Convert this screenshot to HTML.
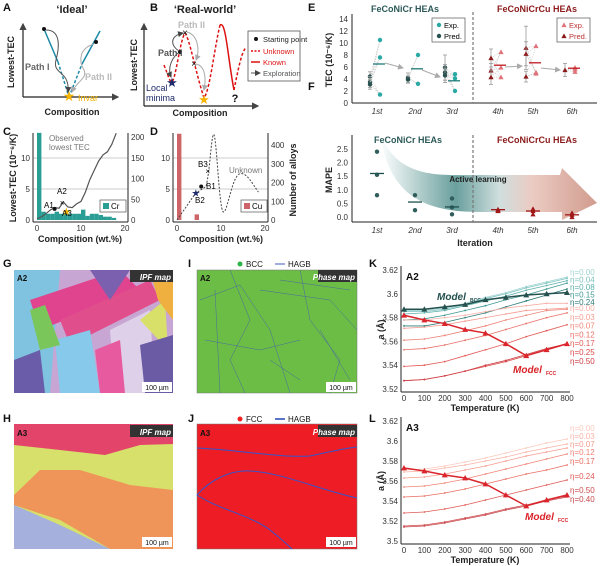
<!DOCTYPE html>
<html><head><meta charset="utf-8">
<style>
html,body{margin:0;padding:0;background:#fff;}
svg{display:block;font-family:"Liberation Sans",Arial,sans-serif;}
.t{font-size:8px;fill:#333}
.lab{font-size:9px;font-weight:bold;fill:#222}
.pl{font-size:11px;font-weight:bold;fill:#111}
</style></head>
<body>
<svg id="fig" width="600" height="566" viewBox="0 0 600 566">
<defs>
<marker id="ar" markerWidth="6" markerHeight="6" refX="5" refY="3" orient="auto"><path d="M0,0L6,3L0,6z" fill="#444"/></marker>
<marker id="arg" markerWidth="6" markerHeight="6" refX="5" refY="3" orient="auto"><path d="M0,0L6,3L0,6z" fill="#aaa"/></marker>
<linearGradient id="alg" x1="0" x2="1"><stop offset="0" stop-color="#ffffff"/><stop offset="0.35" stop-color="#4f8f8c"/><stop offset="0.55" stop-color="#c7d9d8"/><stop offset="0.7" stop-color="#e8c2b8"/><stop offset="1" stop-color="#c98a7a"/></linearGradient>
</defs>

<!-- Panel A -->
<g>
<text class="pl" x="3" y="11">A</text>
<text x="72" y="13" font-size="11" font-weight="bold" fill="#222" text-anchor="middle">‘Ideal’</text>
<line x1="23" y1="97" x2="23" y2="24" stroke="#222" stroke-width="1.2" marker-end="url(#ar)"/>
<line x1="23" y1="97" x2="118" y2="97" stroke="#222" stroke-width="1.2" marker-end="url(#ar)"/>
<text class="lab" x="14" y="62" transform="rotate(-90 14 62)" text-anchor="middle">Lowest-TEC</text>
<text class="lab" x="72" y="115" text-anchor="middle">Composition</text>
<path d="M44,29 L58,62" stroke="#1c8aa6" stroke-width="1.5" fill="none"/>
<path d="M58,62 L69,97" stroke="#1c8aa6" stroke-width="1.5" stroke-dasharray="3,2" fill="none"/>
<path d="M69,97 L82,64" stroke="#1c8aa6" stroke-width="1.5" stroke-dasharray="3,2" fill="none"/>
<path d="M82,64 L100,31" stroke="#1c8aa6" stroke-width="1.5" fill="none"/>
<circle cx="44" cy="29" r="2" fill="#111"/><circle cx="96" cy="42" r="2" fill="#111"/>
<path d="M46,30 C60,30 60,45 56,60 C52,75 70,70 68,92" stroke="#555" fill="none" marker-end="url(#ar)"/>
<path d="M94,44 C80,48 78,60 84,70 C88,78 76,82 72,92" stroke="#aaa" fill="none" marker-end="url(#arg)"/>
<text x="25" y="70" font-size="9" font-weight="bold" fill="#666">Path I</text>
<text x="85" y="80" font-size="9" font-weight="bold" fill="#bbb">Path II</text>
<text x="69" y="101" font-size="14" fill="#f5b400" text-anchor="middle">★</text>
<text x="78" y="101" font-size="9" fill="#f5b400">Invar</text>
</g>

<!-- Panel B -->
<g>
<text class="pl" x="150" y="11">B</text>
<text x="205" y="13" font-size="11" font-weight="bold" fill="#222" text-anchor="middle">‘Real-world’</text>
<line x1="144" y1="106" x2="144" y2="24" stroke="#222" stroke-width="1.2" marker-end="url(#ar)"/>
<line x1="144" y1="106" x2="258" y2="106" stroke="#222" stroke-width="1.2" marker-end="url(#ar)"/>
<text class="lab" x="137" y="65" transform="rotate(-90 137 65)" text-anchor="middle">Lowest-TEC</text>
<text class="lab" x="200" y="116" text-anchor="middle">Composition</text>
<path d="M164,65 C168,75 170,83 172,82 C176,78 180,40 185,33 C190,40 195,70 204,98 C210,90 214,50 220,25" stroke="#d11" stroke-width="1.5" stroke-dasharray="3,2" fill="none"/>
<path d="M220,25 C226,20 228,60 234,90" stroke="#d11" stroke-width="1.5" fill="none"/>
<path d="M234,90 C238,70 242,50 246,48" stroke="#d11" stroke-width="1.5" stroke-dasharray="3,2" fill="none"/>
<circle cx="180" cy="52" r="2" fill="#111"/>
<text x="185" y="36" font-size="10" text-anchor="middle" fill="#111">×</text>
<text x="194" y="67" font-size="10" text-anchor="middle" fill="#111">×</text>
<path d="M179,51 C170,45 170,36 183,33" stroke="#555" fill="none" marker-end="url(#ar)"/>
<path d="M178,53 C170,60 168,70 171,77" stroke="#555" fill="none" marker-end="url(#ar)"/>
<path d="M187,32 C198,35 200,50 196,60" stroke="#aaa" fill="none" marker-end="url(#arg)"/>
<path d="M196,64 C206,66 206,80 204,90" stroke="#aaa" fill="none" marker-end="url(#arg)"/>
<text x="178" y="28" font-size="9" font-weight="bold" fill="#bbb">Path II</text>
<text x="158" y="56" font-size="9" font-weight="bold" fill="#555">Path I</text>
<text x="172" y="87" font-size="13" fill="#1f2a6b" text-anchor="middle">★</text>
<text x="146" y="91" font-size="9" fill="#1f2a6b">Local</text>
<text x="146" y="101" font-size="9" fill="#1f2a6b">minima</text>
<text x="204" y="104" font-size="13" fill="#f5b400" text-anchor="middle">★</text>
<text x="235" y="102" font-size="11" font-weight="bold" fill="#111" text-anchor="middle">?</text>
<g>
<rect x="248" y="31" width="52" height="50" fill="#fff" stroke="#555" stroke-width="0.8"/>
<circle cx="256" cy="39" r="2" fill="#111"/><text x="263" y="42" font-size="7.5" fill="#222">Starting point</text>
<line x1="251" y1="51" x2="260" y2="51" stroke="#d11" stroke-width="1.5" stroke-dasharray="2,1.5"/><text x="263" y="54" font-size="7.5" fill="#d11">Unknown</text>
<line x1="251" y1="62" x2="260" y2="62" stroke="#d11" stroke-width="1.5"/><text x="263" y="65" font-size="7.5" fill="#d11">Known</text>
<line x1="251" y1="73" x2="260" y2="73" stroke="#555" marker-end="url(#ar)"/><text x="263" y="76" font-size="7.5" fill="#555">Exploration</text>
</g>
</g>

<text class="pl" x="3" y="135">C</text>
<text class="pl" x="150" y="135">D</text>
<g id="pc"></g>
<g id="pd"></g>

<text class="pl" x="308" y="11">E</text>
<text class="pl" x="308" y="90">F</text>
<g id="pe"></g>
<g id="pf"></g>

<!-- Maps -->
<text class="pl" x="3" y="267">G</text>
<text class="pl" x="3" y="422">H</text>
<text class="pl" x="188" y="267">I</text>
<text class="pl" x="188" y="422">J</text>
<g>
<rect x="14" y="270" width="159" height="123" fill="#c7a6d4"/>
<polygon points="14,270 60,270 50,393 14,393" fill="#7fc3e0"/>
<polygon points="30,300 120,270 140,290 40,330" fill="#e0448f"/>
<polygon points="60,320 150,280 160,300 70,345" fill="#e04e8c"/>
<polygon points="55,340 90,330 100,393 60,393" fill="#86c9ea"/>
<polygon points="110,330 150,310 155,393 115,393" fill="#ded0e8"/>
<polygon points="140,320 165,300 168,350" fill="#d8e06a"/>
<polygon points="14,360 40,350 45,393 14,393" fill="#6a5ca8"/>
<polygon points="90,270 130,270 110,300" fill="#7b60b0"/>
<polygon points="150,270 173,270 173,320 158,300" fill="#f0b040"/>
<polygon points="95,350 120,340 125,393 100,393" fill="#e85aa0"/>
<polygon points="140,345 173,335 173,393 145,393" fill="#6b5ba5"/>
<polygon points="30,310 45,305 60,345 40,350" fill="#7ac65a"/>
<rect x="130" y="270" width="43" height="12" fill="#333"/><text x="171" y="280" font-size="8" font-style="italic" font-weight="bold" fill="#fff" text-anchor="end">IPF map</text>
<text x="17" y="281" font-size="8" font-weight="bold" fill="#111">A2</text>
<rect x="142" y="382" width="30" height="10" fill="#fff"/><text x="157" y="390" font-size="7" fill="#111" text-anchor="middle">100 µm</text>
</g>
<g>
<rect x="14" y="424" width="159" height="125" fill="#d6e06a"/>
<polygon points="14,424 173,424 173,444 140,445 105,455 60,450 14,445" fill="#e3446a"/>
<polygon points="14,495 40,470 80,470 130,485 173,490 173,549 110,549 60,520 14,505" fill="#f0955a"/>
<polygon points="14,505 60,525 110,549 14,549" fill="#a6b0dc"/>
<rect x="130" y="425" width="43" height="12" fill="#333"/><text x="171" y="435" font-size="8" font-style="italic" font-weight="bold" fill="#fff" text-anchor="end">IPF map</text>
<text x="17" y="436" font-size="8" font-weight="bold" fill="#111">A3</text>
<rect x="142" y="537" width="30" height="10" fill="#fff"/><text x="157" y="545" font-size="7" fill="#111" text-anchor="middle">100 µm</text>
</g>
<g>
<circle cx="240" cy="264" r="2.5" fill="#2db34a"/><text x="246" y="267" font-size="8" fill="#111">BCC</text>
<line x1="275" y1="264" x2="285" y2="264" stroke="#8090d0" stroke-width="1.5"/><text x="288" y="267" font-size="8" fill="#111">HAGB</text>
<rect x="197" y="270" width="160" height="123" fill="#6cbd45" stroke="#777" stroke-width="0.5"/>
<g stroke="#4a6aa0" stroke-width="0.5" fill="none">
<path d="M200,300 L240,285 L270,330 L290,393"/><path d="M230,270 L250,320 L230,360 L245,393"/>
<path d="M260,290 L330,300 L357,330"/><path d="M300,270 L310,320 L340,360 L330,393"/>
<path d="M205,340 L260,350 L300,340"/><path d="M280,280 L350,290"/><path d="M215,290 L220,393"/>
<path d="M320,330 L350,380"/><path d="M270,360 L300,380"/>
</g>
<rect x="318" y="270" width="39" height="12" fill="#333"/><text x="355" y="280" font-size="8" font-style="italic" font-weight="bold" fill="#fff" text-anchor="end">Phase map</text>
<text x="200" y="281" font-size="8" font-weight="bold" fill="#111">A2</text>
<rect x="326" y="382" width="30" height="10" fill="#fff"/><text x="341" y="390" font-size="7" fill="#111" text-anchor="middle">100 µm</text>
</g>
<g>
<circle cx="240" cy="419" r="2.5" fill="#e22"/><text x="246" y="422" font-size="8" fill="#111">FCC</text>
<line x1="275" y1="419" x2="285" y2="419" stroke="#2244bb" stroke-width="1.5"/><text x="288" y="422" font-size="8" fill="#111">HAGB</text>
<rect x="197" y="424" width="160" height="125" fill="#ee1c25" stroke="#777" stroke-width="0.5"/>
<g stroke="#3355cc" stroke-width="1" fill="none">
<path d="M197,448 C240,450 280,458 310,456 C330,452 345,448 357,447"/>
<path d="M197,495 C210,480 230,470 250,471 C280,472 320,490 357,498"/>
<path d="M197,495 C220,510 250,515 270,530 C280,538 288,545 292,549"/>
</g>
<rect x="318" y="425" width="39" height="12" fill="#333"/><text x="355" y="435" font-size="8" font-style="italic" font-weight="bold" fill="#fff" text-anchor="end">Phase map</text>
<text x="200" y="436" font-size="8" font-weight="bold" fill="#111">A3</text>
<rect x="326" y="537" width="30" height="10" fill="#fff"/><text x="341" y="545" font-size="7" fill="#111" text-anchor="middle">100 µm</text>
</g>

<text class="pl" x="369" y="267">K</text>
<text class="pl" x="369" y="422">L</text>
<g id="pk"></g>
<g id="pl"></g>
</svg>

<script>
// ---------- data ----------
const crBinCounts = [210,20,15,15,20,15,15,15,15,15,25,10,15,15,12,8,8,5];
const crTecComp = [0,1,2,3,4,5,6,7,8,9,10,11,12,13,14,15,16,17,18];
const crTecVals = [0.2,0.5,1.0,1.6,2.0,1.9,2.9,2.1,2.0,2.6,3.0,4.5,6.5,8.0,9.5,10.5,11.0,12.2,14.0];
const cuBinStart = [0,4];
const cuBinCounts = [460,30];
const cTicksLeft = [0,5,10];
const cTicksRight = [0,50,100,150,200];
const dTicksRight = [0,100,200,300,400];
const compTicks = [0,10,20];

const iterLabels = ["1st","2nd","3rd","4th","5th","6th"];
const tecExp = [[10.5,7.6,1.4],[8.0,3.2],[4.8,4.1,2.0],[8.5,5.9,4.3],[9.5,5.1,4.9],[5.9,5.6,5.2]];
const tecPred = [[4.4,3.5,3.1],[4.2,3.9],[5.9,5.1,4.6],[7.5,5.4,4.3],[9.2,8.2,4.4],[5.5]];
const tecPredErr = [[0.8,0.9,0.8],[0.8,0.6],[2.1,1.3,1.2],[1.5,1.2,1.2],[3.6,2.0,0.9],[1.1]];
const tecMean = [6.5,5.7,3.7,6.3,6.7,5.8];
const tecTicks = [0,2,4,6,8,10,12,14];
const mapeVals = [[2.4,1.55,0.8],[0.8,0.25],[0.68,0.35,0.1],[0.28,0.25,0.22],[0.3,0.22,0.1],[0.15,0.08,0.0]];
const mapeMean = [1.6,0.55,0.37,0.27,0.22,0.08];
const mapeTicks = [0,0.5,1.0,1.5,2.0,2.5];

const temps = [0,100,200,300,400,500,600,700,800];
const kBccEta = ["0.00","0.04","0.08","0.15","0.24"];
const kBcc = [
 [3.586,3.586,3.588,3.592,3.597,3.601,3.606,3.610,3.614],
 [3.585,3.585,3.587,3.591,3.596,3.600,3.605,3.609,3.613],
 [3.583,3.584,3.586,3.590,3.594,3.598,3.603,3.607,3.611],
 [3.578,3.579,3.582,3.586,3.590,3.595,3.599,3.604,3.609],
 [3.573,3.573,3.576,3.580,3.584,3.589,3.594,3.599,3.604]];
const kModelBcc = [3.587,3.587,3.589,3.591,3.595,3.597,3.599,3.600,3.601];
const kFccEta = ["0.00","0.03","0.07","0.12","0.17","0.25","0.50"];
const kFcc = [
 [3.578,3.578,3.580,3.582,3.585,3.588,3.590,3.592,3.592],
 [3.571,3.572,3.574,3.577,3.580,3.583,3.586,3.587,3.588],
 [3.561,3.562,3.565,3.569,3.573,3.578,3.582,3.586,3.587],
 [3.553,3.554,3.557,3.561,3.565,3.570,3.575,3.580,3.584],
 [3.539,3.540,3.543,3.548,3.553,3.558,3.564,3.569,3.574],
 [3.527,3.528,3.531,3.535,3.539,3.543,3.548,3.553,3.558],
 [3.527,3.528,3.531,3.535,3.540,3.544,3.549,3.554,3.558]];
const kModelFcc = [3.582,3.578,3.575,3.570,3.567,3.558,3.548,3.553,3.558];
const kTicks = [3.52,3.54,3.56,3.58,3.60,3.62];
const lFccEta = ["0.00","0.03","0.07","0.12","0.17","0.24","0.50","0.40"];
const lFcc = [
 [3.571,3.572,3.575,3.579,3.583,3.588,3.593,3.598,3.602],
 [3.569,3.570,3.573,3.576,3.580,3.584,3.589,3.593,3.597],
 [3.563,3.564,3.567,3.571,3.575,3.580,3.585,3.589,3.593],
 [3.554,3.555,3.558,3.562,3.567,3.572,3.577,3.582,3.587],
 [3.544,3.545,3.548,3.552,3.557,3.562,3.567,3.571,3.576],
 [3.528,3.529,3.532,3.536,3.541,3.546,3.551,3.556,3.561],
 [3.515,3.516,3.519,3.523,3.527,3.532,3.536,3.541,3.545],
 [3.514,3.515,3.518,3.522,3.526,3.531,3.535,3.540,3.544]];
const lModelFcc = [3.573,3.570,3.566,3.563,3.557,3.546,3.535,3.541,3.546];
const lTicks = [3.50,3.52,3.54,3.56,3.58,3.60,3.62];
const tempTicks = [0,100,200,300,400,500,600,700,800];

// ---------- helpers ----------
const NS="http://www.w3.org/2000/svg";
function mk(parent,tag,attrs,txt){const e=document.createElementNS(NS,tag);for(const k in attrs)e.setAttribute(k,attrs[k]);if(txt!==undefined)e.textContent=txt;parent.appendChild(e);return e;}
function lin(d0,d1,r0,r1){return v=>r0+(v-d0)/(d1-d0)*(r1-r0);}
function tri(x,y,s){return `${x},${y-s} ${x-s},${y+s*0.8} ${x+s},${y+s*0.8}`;}

// ---------- Panel C ----------
(function(){
 const g=document.getElementById('pc');
 const x=lin(0,20,37,125), yl=lin(0,10,220,158), yr=lin(0,200,220,137);
 [5,10].forEach(v=>mk(g,'line',{x1:33,x2:128,y1:yl(v),y2:yl(v),stroke:'#bbb','stroke-width':0.7}));
 crBinCounts.forEach((c,i)=>{const b=mk(g,'rect',{x:x(i),y:yr(c),width:x(i+1)-x(i),height:220-yr(c),fill:'#2a9d94'});
  
  });
 const p=mk(g,'polyline',{points:crTecComp.map((c,i)=>x(c)+','+yl(crTecVals[i])).join(' '),fill:'none',stroke:'#555','stroke-width':1.2});
 
 
 mk(g,'line',{x1:33,y1:133,x2:33,y2:222,stroke:'#222'});
 mk(g,'line',{x1:128,y1:133,x2:128,y2:222,stroke:'#222'});
 mk(g,'line',{x1:33,y1:222,x2:128,y2:222,stroke:'#222'});
 cTicksLeft.forEach(v=>{mk(g,'text',{x:30,y:yl(v)+3,class:'t','text-anchor':'end'},v);});
 cTicksRight.forEach(v=>{mk(g,'text',{x:131,y:yr(v)+3,class:'t'},v);});
 compTicks.forEach(v=>{mk(g,'text',{x:x(v),y:231,class:'t','text-anchor':'middle'},v);});
 mk(g,'text',{x:80,y:242,class:'lab','text-anchor':'middle'},'Composition (wt.%)');
 mk(g,'text',{x:16,y:178,class:'lab','text-anchor':'middle',transform:'rotate(-90 16 178)'},'Lowest-TEC (10⁻⁶/K)');
 mk(g,'text',{x:49,y:141,'font-size':8,fill:'#777'},'Observed');
 mk(g,'text',{x:49,y:150,'font-size':8,fill:'#777'},'lowest TEC');
 mk(g,'circle',{cx:x(4),cy:yl(1.8),r:2,fill:'#111'});
 mk(g,'text',{x:x(5.7),y:yl(2.8)+3,'font-size':8,'text-anchor':'middle'},'×');
 mk(g,'text',{x:x(6.7),y:yl(1.4)+4,'font-size':11,'text-anchor':'middle',fill:'#f5b400'},'★');
 mk(g,'text',{x:44,y:208,'font-size':8},'A1');mk(g,'text',{x:57,y:194,'font-size':8},'A2');mk(g,'text',{x:62,y:216,'font-size':8},'A3');
 mk(g,'rect',{x:100,y:200,width:26,height:12,fill:'#fff',stroke:'#555','stroke-width':0.7});
 mk(g,'rect',{x:103,y:203,width:6,height:6,fill:'#2a9d94'});mk(g,'text',{x:111,y:209,'font-size':8},'Cr');
})();

// ---------- Panel D ----------
(function(){
 const g=document.getElementById('pd');
 const x=lin(0,20,177,265), yl=lin(0,10,220,158), yr=lin(0,400,220,145);
 [5,10].forEach(v=>mk(g,'line',{x1:173,x2:268,y1:yl(v),y2:yl(v),stroke:'#bbb','stroke-width':0.7}));
 cuBinStart.forEach((s,i)=>{const b=mk(g,'rect',{x:x(s),y:yr(cuBinCounts[i]),width:x(s+1)-x(s),height:220-yr(cuBinCounts[i]),fill:'#cd6468'});
  
  });
 mk(g,'path',{d:`M${x(0)},${yl(0)} L${x(4.2)},${yl(4.3)} L${x(6.6)},${yl(5.4)} C${x(7.5)},${yl(8)} ${x(7.8)},${yl(13.5)} ${x(8.3)},${yl(13.8)} C${x(9)},${yl(14)} ${x(9.5)},${yl(2)} ${x(10.5)},${yl(1.3)} C${x(11.5)},${yl(1)} ${x(12.5)},${yl(7.5)} ${x(14.5)},${yl(7.5)} C${x(16)},${yl(7.5)} ${x(17)},${yl(6)} ${x(18.5)},${yl(4.5)}`,fill:'none',stroke:'#444','stroke-dasharray':'2,1.5'});
 mk(g,'line',{x1:173,y1:133,x2:173,y2:222,stroke:'#222'});
 mk(g,'line',{x1:268,y1:133,x2:268,y2:222,stroke:'#222'});
 mk(g,'line',{x1:173,y1:222,x2:268,y2:222,stroke:'#222'});
 cTicksLeft.forEach(v=>mk(g,'text',{x:170,y:yl(v)+3,class:'t','text-anchor':'end'},v));
 dTicksRight.forEach(v=>mk(g,'text',{x:271,y:yr(v)+3,class:'t'},v));
 compTicks.forEach(v=>mk(g,'text',{x:x(v),y:231,class:'t','text-anchor':'middle'},v));
 mk(g,'text',{x:221,y:242,class:'lab','text-anchor':'middle'},'Composition (wt.%)');
 mk(g,'text',{x:296,y:180,class:'lab','text-anchor':'middle',transform:'rotate(-90 296 180)'},'Number of alloys');
 mk(g,'circle',{cx:x(5.5),cy:yl(5.4),r:2,fill:'#111'});
 mk(g,'text',{x:x(7),y:yl(7.9)+3,'font-size':8,'text-anchor':'middle'},'×');
 mk(g,'text',{x:x(4.3),y:yl(4.4)+4,'font-size':10,'text-anchor':'middle',fill:'#1f2a6b'},'★');
 mk(g,'text',{x:206,y:189,'font-size':8},'B1');mk(g,'text',{x:195,y:203,'font-size':8},'B2');mk(g,'text',{x:198,y:167,'font-size':8},'B3');
 mk(g,'text',{x:229,y:173,'font-size':8,fill:'#777'},'Unknown');
 mk(g,'rect',{x:241,y:200,width:26,height:12,fill:'#fff',stroke:'#555','stroke-width':0.7});
 mk(g,'rect',{x:244,y:203,width:6,height:6,fill:'#cd6468'});mk(g,'text',{x:252,y:209,'font-size':8},'Cu');
})();

// ---------- Panel E ----------
const catX = [377,415,452,498,533,572];
(function(){
 const g=document.getElementById('pe');
 const y=lin(0,14,103,19);
 const teal='#2aa8a4',dk='#27504f',red='#c8333f',dred='#8b1a1a';
 mk(g,'line',{x1:352,y1:14,x2:352,y2:103,stroke:'#222'});
 mk(g,'line',{x1:352,y1:103,x2:597,y2:103,stroke:'#222'});
 mk(g,'line',{x1:473,y1:12,x2:473,y2:103,stroke:'#777','stroke-dasharray':'3,2','stroke-width':1.2});
 tecTicks.forEach(v=>mk(g,'text',{x:348,y:y(v)+3,class:'t','text-anchor':'end'},v));
 iterLabels.forEach((l,i)=>mk(g,'text',{x:catX[i],y:114,class:'t','text-anchor':'middle','font-style':'italic'},l));
 mk(g,'text',{x:332,y:60,class:'lab','text-anchor':'middle',transform:'rotate(-90 332 60)'},'TEC (10⁻⁶/K)');
 mk(g,'text',{x:405,y:12,'font-size':9,'font-weight':'bold',fill:'#2c5a58','text-anchor':'middle'},'FeCoNiCr HEAs');
 mk(g,'text',{x:537,y:12,'font-size':9,'font-weight':'bold',fill:'#8b1a1a','text-anchor':'middle'},'FeCoNiCrCu HEAs');
 iterLabels.forEach((l,i)=>{
  const cu=i>=3, cx=catX[i];
  tecPred[i].forEach((v,j)=>{
   const e=tecPredErr[i][j];
   mk(g,'line',{x1:cx-7,x2:cx-7,y1:y(v-e),y2:y(v+e),stroke:'#999','stroke-width':0.8});
   mk(g,'line',{x1:cx-9,x2:cx-5,y1:y(v+e),y2:y(v+e),stroke:'#999','stroke-width':0.8});
   mk(g,'line',{x1:cx-9,x2:cx-5,y1:y(v-e),y2:y(v-e),stroke:'#999','stroke-width':0.8});
   tecExp[i].forEach(w=>mk(g,'line',{x1:cx-7,y1:y(v),x2:cx+3,y2:y(w),stroke:'#ccc','stroke-width':0.6,'stroke-dasharray':'1.5,1'}));
   const m = cu? mk(g,'polygon',{points:tri(cx-7,y(v),2.6),fill:dred}) : mk(g,'circle',{cx:cx-7,cy:y(v),r:2.2,fill:dk});
   
   
  });
  tecExp[i].forEach(w=>{
   const m = cu? mk(g,'polygon',{points:tri(cx+3,y(w),2.6),fill:'#e0737a'}) : mk(g,'circle',{cx:cx+3,cy:y(w),r:2.2,fill:teal});
   
   
  });
  const mm=mk(g,'line',{x1:cx-4,x2:cx+8,y1:y(tecMean[i]),y2:y(tecMean[i]),stroke:cu?'#c0181e':'#1f7a78','stroke-width':1.3});
  
  
 });
 [[385,63,403,68],[422,70,440,77],[505,67,522,66],[541,68,560,70]].forEach(a=>mk(g,'line',{x1:a[0],y1:a[1],x2:a[2],y2:a[3],stroke:'#aaa','stroke-width':1,'marker-end':'url(#arg)'}));
 mk(g,'rect',{x:432,y:18,width:33,height:24,fill:'#fff',stroke:'#555','stroke-width':0.7});
 mk(g,'circle',{cx:439,cy:25,r:2.2,fill:teal});mk(g,'text',{x:444,y:28,'font-size':7.5},'Exp.');
 mk(g,'circle',{cx:439,cy:36,r:2.2,fill:dk});mk(g,'text',{x:444,y:39,'font-size':7.5},'Pred.');
 mk(g,'rect',{x:557,y:18,width:33,height:24,fill:'#fff',stroke:'#555','stroke-width':0.7});
 mk(g,'polygon',{points:tri(564,25,2.6),fill:'#e0737a'});mk(g,'text',{x:569,y:28,'font-size':7.5,fill:'#b33'},'Exp.');
 mk(g,'polygon',{points:tri(564,36,2.6),fill:dred});mk(g,'text',{x:569,y:39,'font-size':7.5,fill:'#b33'},'Pred.');
})();

// ---------- Panel F ----------
(function(){
 const g=document.getElementById('pf');
 const y=lin(0,2.5,217,149);
 mk(g,'path',{d:'M380,135 C400,180 440,175 480,175 L560,175 L562,168 L597,203 L562,220 L562,212 L480,212 C430,212 390,200 380,135 Z',fill:'url(#alg)',opacity:0.85});
 mk(g,'text',{x:478,y:182,'font-size':8,'font-weight':'bold',fill:'#222','text-anchor':'middle'},'Active learning');
 mk(g,'line',{x1:352,y1:135,x2:352,y2:222,stroke:'#222'});
 mk(g,'line',{x1:352,y1:222,x2:597,y2:222,stroke:'#222'});
 mk(g,'line',{x1:473,y1:135,x2:473,y2:222,stroke:'#777','stroke-dasharray':'3,2','stroke-width':1.2});
 mapeTicks.forEach(v=>mk(g,'text',{x:348,y:y(v)+3,class:'t','text-anchor':'end'},v.toFixed(1)));
 iterLabels.forEach((l,i)=>mk(g,'text',{x:catX[i],y:233,class:'t','text-anchor':'middle','font-style':'italic'},l));
 mk(g,'text',{x:475,y:246,class:'lab','text-anchor':'middle'},'Iteration');
 mk(g,'text',{x:332,y:180,class:'lab','text-anchor':'middle',transform:'rotate(-90 332 180)'},'MAPE');
 mk(g,'text',{x:408,y:143,'font-size':9,'font-weight':'bold',fill:'#2c5a58','text-anchor':'middle'},'FeCoNiCr HEAs');
 mk(g,'text',{x:537,y:143,'font-size':9,'font-weight':'bold',fill:'#8b1a1a','text-anchor':'middle'},'FeCoNiCrCu HEAs');
 iterLabels.forEach((l,i)=>{
  const cu=i>=3,cx=catX[i];
  mapeVals[i].forEach(v=>{
   const m= cu? mk(g,'polygon',{points:tri(cx,y(v),2.6),fill:'#a01818'}):mk(g,'circle',{cx:cx,cy:y(v),r:2.2,fill:'#2f5e5c'});
   
   
  });
  const mm=mk(g,'line',{x1:cx-7,x2:cx+7,y1:y(mapeMean[i]),y2:y(mapeMean[i]),stroke:cu?'#a01818':'#1f4f4d','stroke-width':1.3});
  
  
 });
})();

// ---------- Panels K/L ----------
const bccCols=['#9fd4d1','#7cc3bf','#5cb0ab','#3d9892','#2e7e78'];
const fccColsK=['#f7b0a6','#f49c91','#ef857a','#e96f66','#e25a55','#d84a4a','#cf3f45'];
const fccColsL=['#fbc9bd','#f8b3a6','#f59c8e','#f08476','#ea6d62','#e05a55','#cf4a4e','#c94a4e'];
function latticeChart(g,top,bot,d0,d1,ticks,label){
 const x=lin(0,800,404,567), y=lin(d0,d1,bot,top);
 mk(g,'line',{x1:401,y1:top-4,x2:401,y2:bot+3,stroke:'#222'});
 mk(g,'line',{x1:401,y1:bot+3,x2:570,y2:bot+3,stroke:'#222'});
 ticks.forEach(v=>mk(g,'text',{x:398,y:y(v)+3,class:'t','text-anchor':'end'},+v.toFixed(2)));
 tempTicks.forEach(v=>mk(g,'text',{x:x(v),y:bot+12,class:'t','text-anchor':'middle'},v));
 mk(g,'text',{x:485,y:bot+22,class:'lab','text-anchor':'middle'},'Temperature (K)');
 mk(g,'text',{x:384,y:(top+bot)/2,class:'lab','text-anchor':'middle',transform:`rotate(-90 384 ${(top+bot)/2})`},'a (Å)');
 mk(g,'text',{x:406,y:top+10,'font-size':10,'font-weight':'bold',fill:'#111'},label);
 return {x,y};
}
function series(g,ax,vals,col,w,name,marker){
 const p=mk(g,'polyline',{points:temps.map((t,i)=>ax.x(t)+','+ax.y(vals[i])).join(' '),fill:'none',stroke:col,'stroke-width':w});
 
 
 temps.forEach((t,i)=>{ if(marker) mk(g,'polygon',{points:tri(ax.x(t),ax.y(vals[i]),3),fill:col}); else mk(g,'circle',{cx:ax.x(t),cy:ax.y(vals[i]),r:0.9,fill:col});});
}
(function(){
 const g=document.getElementById('pk');
 const ax=latticeChart(g,270,389,3.52,3.62,kTicks,'A2');
 kBcc.forEach((v,i)=>series(g,ax,v,bccCols[i],0.8,'bcc-eta-'+kBccEta[i],false));
 kFcc.forEach((v,i)=>series(g,ax,v,fccColsK[i],0.8,'fcc-eta-'+kFccEta[i],false));
 series(g,ax,kModelBcc,'#24504e',1.5,'model-bcc-line',true);
 series(g,ax,kModelFcc,'#d9252b',1.5,'model-fcc-line',true);
 kBccEta.forEach((e,i)=>mk(g,'text',{x:570,y:275+i*7.5,'font-size':8,fill:bccCols[i]},'η='+e));
 kFccEta.forEach((e,i)=>mk(g,'text',{x:570,y:311+i*8.8,'font-size':8,fill:fccColsK[i]},'η='+e));
 mk(g,'text',{x:437,y:300,'font-size':10,'font-weight':'bold','font-style':'italic',fill:'#24504e'},'Model');
 mk(g,'text',{x:470,y:302,'font-size':5,'font-weight':'bold',fill:'#24504e'},'BCC');
 mk(g,'text',{x:513,y:373,'font-size':10,'font-weight':'bold','font-style':'italic',fill:'#d9252b'},'Model');
 mk(g,'text',{x:546,y:375,'font-size':5,'font-weight':'bold',fill:'#d9252b'},'FCC');
})();
(function(){
 const g=document.getElementById('pl');
 const ax=latticeChart(g,421,541,3.50,3.62,lTicks,'A3');
 lFcc.forEach((v,i)=>series(g,ax,v,fccColsL[i],0.8,'fcc-eta-'+lFccEta[i],false));
 series(g,ax,lModelFcc,'#d9252b',1.5,'model-fcc-line',true);
 const ly=[431,439,447,455,464,479,493,502];
 lFccEta.forEach((e,i)=>mk(g,'text',{x:570,y:ly[i],'font-size':8,fill:fccColsL[i]},'η='+e));
 mk(g,'text',{x:525,y:520,'font-size':10,'font-weight':'bold','font-style':'italic',fill:'#d9252b'},'Model');
 mk(g,'text',{x:558,y:522,'font-size':5,'font-weight':'bold',fill:'#d9252b'},'FCC');
})();
</script>
</body></html>
